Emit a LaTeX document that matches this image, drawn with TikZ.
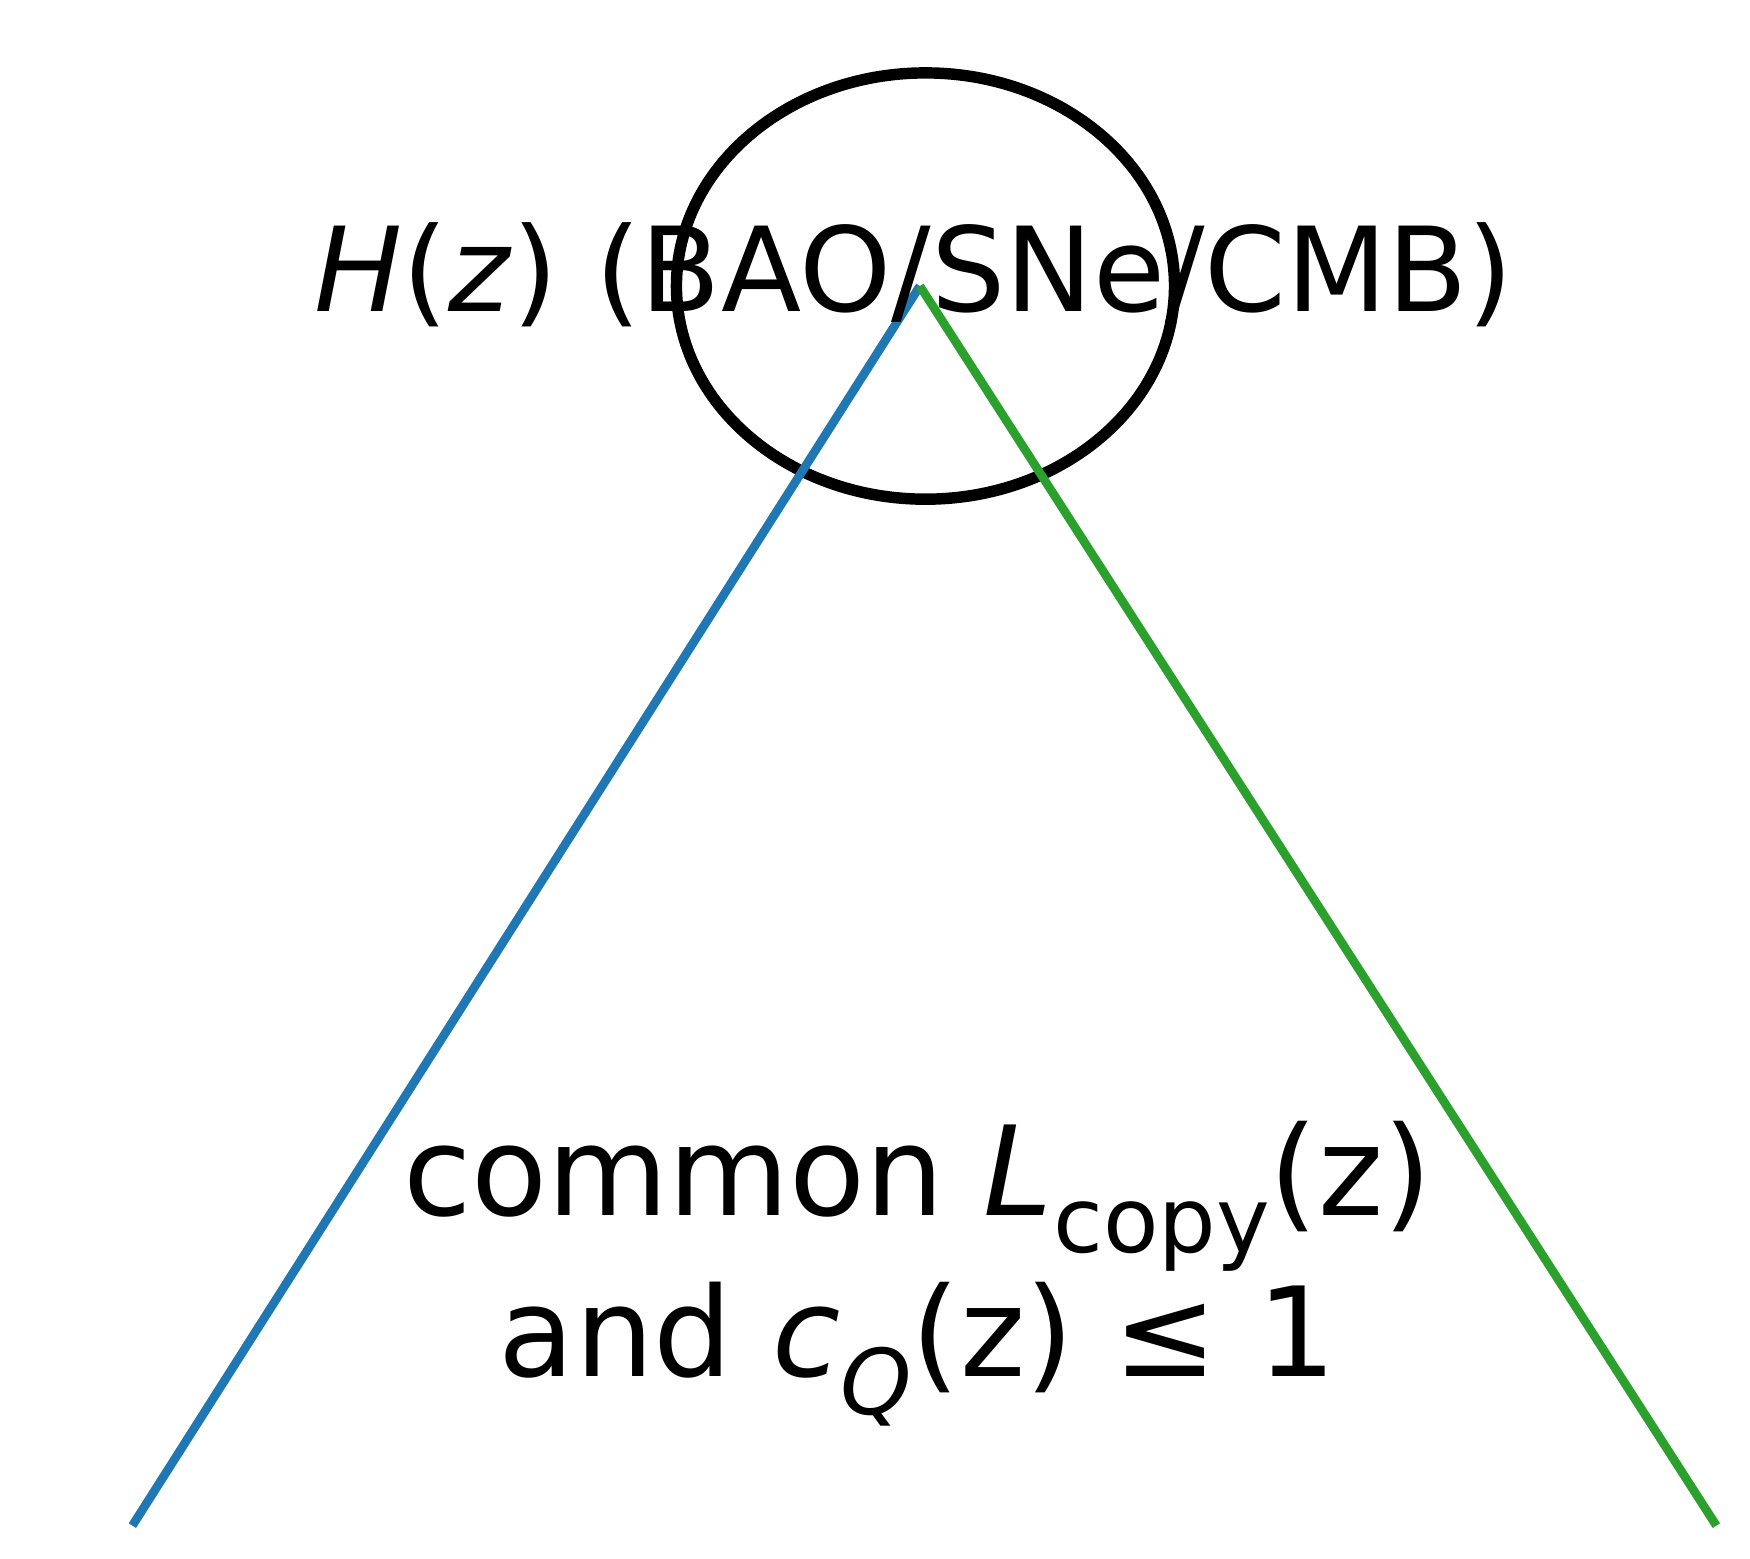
\documentclass[tikz,border=0pt]{standalone}
\usepackage{fontspec}
\setmainfont{DejaVu Sans}
\usetikzlibrary{shapes.geometric}
\definecolor{mplblue}{HTML}{1F77B4}
\definecolor{mplgreen}{HTML}{2CA02C}
\newcommand{\mysub}[1]{\raisebox{-0.3em}{\fontsize{23}{24}\selectfont #1}}
\begin{document}
\begin{tikzpicture}[x=0.01cm,y=-0.01cm,
  lbl/.style={inner sep=0pt, align=center},
  edge/.style={line width=2.2pt}]
\useasboundingbox (0,0) rectangle (1560,1389);
\draw[line width=2.9pt] (825,255) ellipse [x radius=222, y radius=190];
\node[ellipse, minimum width=4.44cm, minimum height=3.8cm] (ell) at (825,255) {};
\coordinate (apex) at (820,255);
\coordinate (bl) at (118,1360);
\coordinate (br) at (1530,1360);
\draw[edge, mplblue] (apex) -- (bl);
\draw[edge, mplgreen] (apex) -- (br);
\node[lbl, font=\fontsize{29.7}{34}\selectfont] (top) at (815,245) {\textit{H}(\textit{z}) (BAO/SNe/CMB)};
\node[lbl, font=\fontsize{31.5}{41}\selectfont] (bot) at (818,1135) {common \textit{L}\mysub{copy}(z)\\and \textit{c}\mysub{\textit{Q}}(z) ≤ 1};
\end{tikzpicture}
\end{document}
